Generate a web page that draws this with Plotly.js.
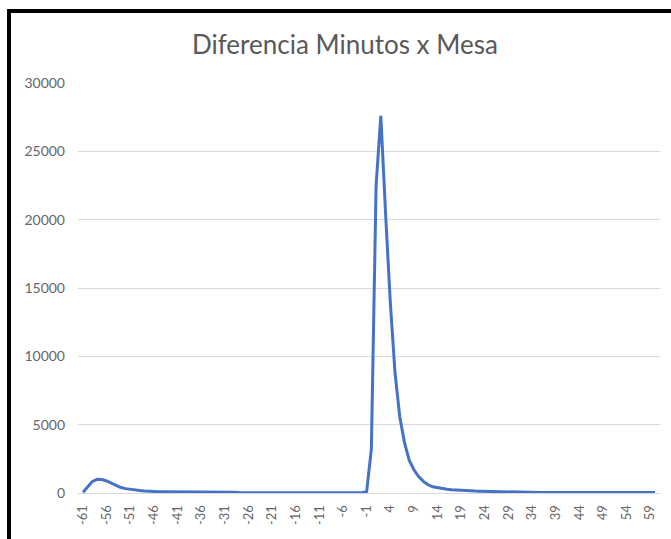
<!DOCTYPE html>
<html>
<head>
<meta charset="utf-8">
<script src="https://cdn.plot.ly/plotly-3.0.1.min.js"></script>
<style>
  html, body { margin: 0; padding: 0; background: #fff; }
  #wrap { position: relative; width: 671px; height: 539px; overflow: hidden; }
  #chart { position: absolute; left: 0; top: 0; width: 671px; height: 539px; }
  #frame { position: absolute; left: 7px; top: 9px; width: 680px; height: 560px;
           border-top: 4px solid #000; border-left: 4px solid #000; pointer-events: none; }
</style>
</head>
<body>
<div id="wrap">
  <div id="chart"></div>
  <div id="frame"></div>
</div>
<script>
const titleText = "Diferencia Minutos x Mesa";

const minutes = [
  -61,-60,-59,-58,-57,-56,-55,-54,-53,-52,-51,-50,-49,-48,-47,-46,-45,-44,-43,-42,
  -41,-40,-39,-38,-37,-36,-35,-34,-33,-32,-31,-30,-29,-28,-27,-26,-25,-24,-23,-22,
  -21,-20,-19,-18,-17,-16,-15,-14,-13,-12,-11,-10,-9,-8,-7,-6,-5,-4,-3,-2,
  -1,0,1,2,3,4,5,6,7,8,9,10,11,12,13,14,15,16,17,18,
  19,20,21,22,23,24,25,26,27,28,29,30,31,32,33,34,35,36,37,38,
  39,40,41,42,43,44,45,46,47,48,49,50,51,52,53,54,55,56,57,58,
  59,60
];

const counts = [
  50,450,850,1000,980,880,700,520,400,320,260,220,180,150,120,100,95,90,90,85,
  85,80,80,75,75,70,70,70,65,60,55,40,60,30,25,25,20,20,20,20,
  20,20,20,20,20,20,20,20,20,20,20,20,20,20,20,20,20,20,20,20,
  100,3200,22500,27600,20500,14000,8800,5600,3700,2400,1700,1200,850,600,450,380,320,280,240,210,
  180,160,150,140,130,120,110,100,100,90,80,40,30,30,30,30,30,30,30,30,
  30,30,30,30,30,30,30,30,30,30,30,30,30,30,30,30,30,30,30,30,
  30,30
];

const xTickVals = [-61,-56,-51,-46,-41,-36,-31,-26,-21,-16,-11,-6,-1,4,9,14,19,24,29,34,39,44,49,54,59];
const xTickText = ["-61","-56","-51","-46","-41","-36","-31","-26","-21","-16","-11","-6","-1","4","9","14","19","24","29","34","39","44","49","54","59"];
const yTickVals = [0,5000,10000,15000,20000,25000,30000];

const trace = {
  x: minutes,
  y: counts,
  type: "scatter",
  mode: "lines",
  line: { color: "#4472C4", width: 3 },
  hoverinfo: "x+y"
};

const layout = {
  width: 671,
  height: 539,
  margin: { l: 78, r: 11, t: 83, b: 46 },
  paper_bgcolor: "#ffffff",
  plot_bgcolor: "#ffffff",
  showlegend: false,
  font: { family: "Lato, 'Open Sans', sans-serif", color: "#595959" },
  title: {
    text: titleText,
    font: { family: "Lato, 'Open Sans', sans-serif", size: 26, color: "#595959" },
    xref: "container", x: 0.514, xanchor: "center",
    yref: "container", y: 0.917, yanchor: "middle"
  },
  xaxis: {
    range: [-62.06, 61.06],
    tickmode: "array",
    tickvals: xTickVals,
    ticktext: xTickText,
    tickangle: -90,
    tickfont: { size: 13, color: "#666666" },
    ticklabelstandoff: 6,
    showgrid: false,
    zeroline: false,
    showline: true,
    linecolor: "#d9d9d9",
    linewidth: 1,
    ticks: ""
  },
  yaxis: {
    range: [0, 30000],
    tickmode: "array",
    tickvals: yTickVals,
    ticktext: yTickVals.map(String),
    tickfont: { size: 14, color: "#666666" },
    ticklabelstandoff: 12,
    showgrid: true,
    gridcolor: "#d9d9d9",
    gridwidth: 1,
    zeroline: false,
    showline: false,
    ticks: ""
  }
};

Plotly.newPlot("chart", [trace], layout, { displayModeBar: false, staticPlot: true });
</script>
</body>
</html>
